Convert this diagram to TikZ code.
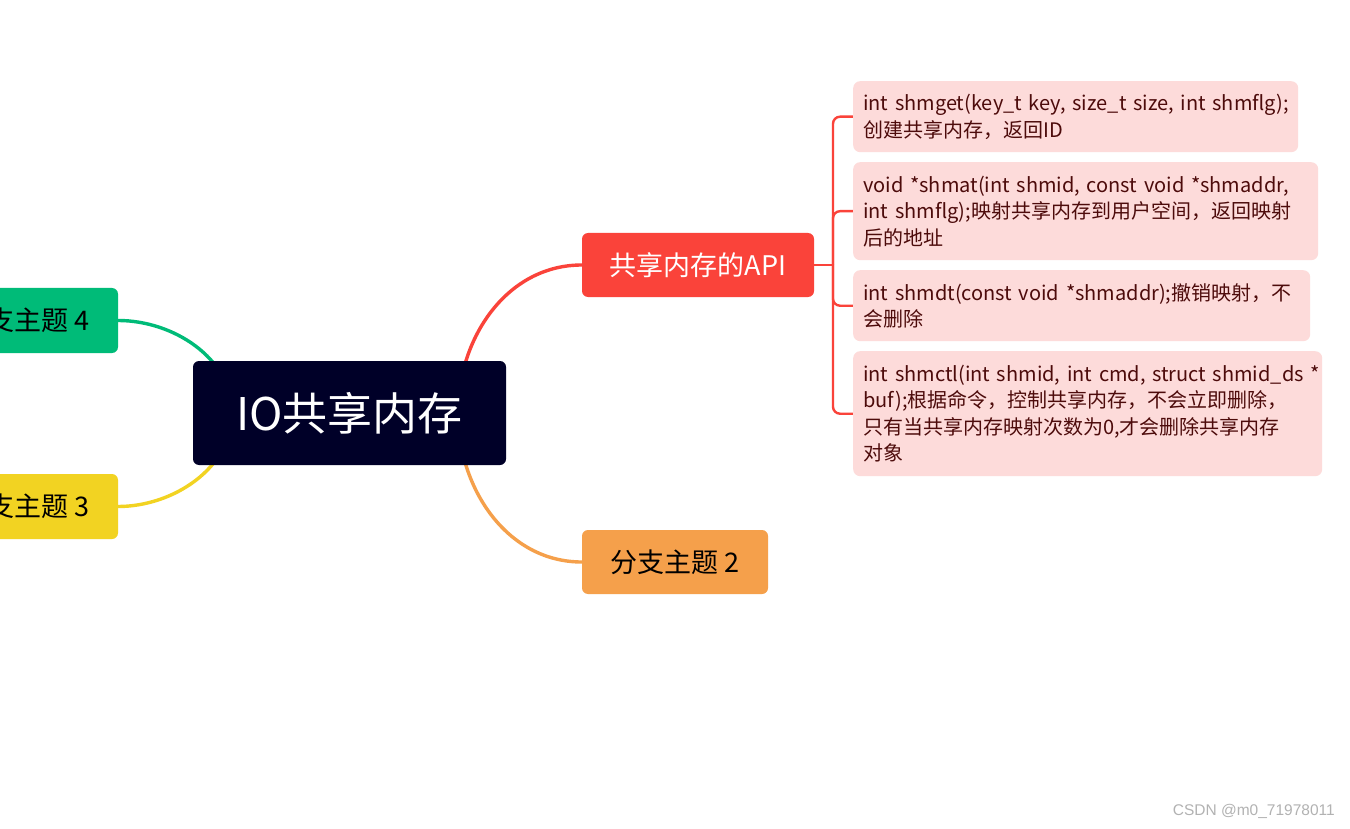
\documentclass[tikz,border=0pt]{standalone}
\usepackage{fontspec}
\setmainfont{Noto Sans CJK SC}
\newfontfamily\wmfont{Liberation Sans}
\usetikzlibrary{backgrounds}
\definecolor{cdark}{HTML}{000028}
\definecolor{cred}{HTML}{FA433A}
\definecolor{corange}{HTML}{F5A04B}
\definecolor{cgreen}{HTML}{00BB78}
\definecolor{cyellow}{HTML}{F2D322}
\definecolor{cpink}{HTML}{FDDBDA}
\definecolor{ctext}{HTML}{4D0B0B}
\pgfdeclarelayer{bgzero}
\pgfsetlayers{bgzero,background,main}
\tikzset{
  topic/.style={rounded corners=6pt, inner sep=0pt, minimum height=64pt},
  subtopic/.style={rounded corners=7pt, fill=cpink, text=ctext, anchor=north west,
    inner xsep=10pt, inner ysep=0pt, align=left,
    font=\fontsize{20}{26.5}\selectfont},
  link/.style={line width=3.4pt},
  brace/.style={line width=2.4pt, draw=cred, rounded corners=7pt}
}
\begin{document}
\begin{tikzpicture}[x=1pt,y=-1pt]
\begin{pgfonlayer}{bgzero}
\fill[white] (0,0) rectangle (1350,829);
\end{pgfonlayer}
\clip (0,0) rectangle (1350,829);

% central
\node (root) [topic, fill=cdark, text=white, minimum width=313pt, minimum height=104pt,
  font=\fontsize{45}{50}\selectfont] at (349.5,413) {IO共享内存};

% main branches
\node (api) [topic, fill=cred, text=white, minimum width=232pt,
  font=\fontsize{27}{30}\selectfont] at (698,265) {共享内存的API};
\node (b2) [topic, fill=corange, text=black, minimum width=186pt,
  font=\fontsize{27}{30}\selectfont] at (675,562) {分支主题 2};
\node (b4) [topic, fill=cgreen, text=black, minimum width=186pt, minimum height=65pt,
  font=\fontsize{27}{30}\selectfont] at (25,320.5) {分支主题 4};
\node (b3) [topic, fill=cyellow, text=black, minimum width=186pt, minimum height=65pt,
  font=\fontsize{27}{30}\selectfont] at (25,506.5) {分支主题 3};

% sub topics
\node (s1) [subtopic, text width=425pt, minimum height=71pt] at (853,81)
  {\mbox{int shmget(key\_t key, size\_t size, int shmflg);}\\\mbox{创建共享内存，返回ID}};
\node (s2) [subtopic, text width=445pt, minimum height=98pt] at (853,162)
  {\mbox{void *shmat(int shmid, const void *shmaddr,}\\\mbox{int shmflg);映射共享内存到用户空间，返回映射}\\\mbox{后的地址}};
\node (s3) [subtopic, text width=437pt, minimum height=71pt] at (853,270)
  {\mbox{int shmdt(const void *shmaddr);撤销映射，不}\\\mbox{会删除}};
\node (s4) [subtopic, text width=449pt, minimum height=125pt] at (853,351)
  {\mbox{int shmctl(int shmid, int cmd, struct shmid\_ds *}\\\mbox{buf);根据命令，控制共享内存，不会立即删除，}\\\mbox{只有当共享内存映射次数为0,才会删除共享内存}\\\mbox{对象}};

\coordinate (cr) at (458,413);
\coordinate (cl) at (232,413);
\coordinate (bj) at (833,265);

\begin{scope}[on background layer]
\draw[link, cred] (cr) .. controls +(0,-75) and +(-75,0) .. (api.west);
\draw[link, corange] (cr) .. controls +(0,75) and +(-75,0) .. (b2.west);
\draw[link, cgreen] (cl) .. controls +(0,-55) and +(55,0) .. (b4.east);
\draw[link, cyellow] (cl) .. controls +(0,55) and +(55,0) .. (b3.east);
\draw[line width=2.4pt, cred] (api.east) -- (bj);
\draw[brace] (bj) |- (s1.west);
\draw[brace] (bj) |- (s2.west);
\draw[brace] (bj) |- (s3.west);
\draw[brace] (bj) |- (s4.west);
\end{scope}

% watermark
\node (wm) [anchor=east, text=black!30, inner sep=0pt, font=\wmfont\fontsize{15.5}{18}\selectfont]
  at (1335,811) {CSDN @m0\_71978011};
\end{tikzpicture}
\end{document}
